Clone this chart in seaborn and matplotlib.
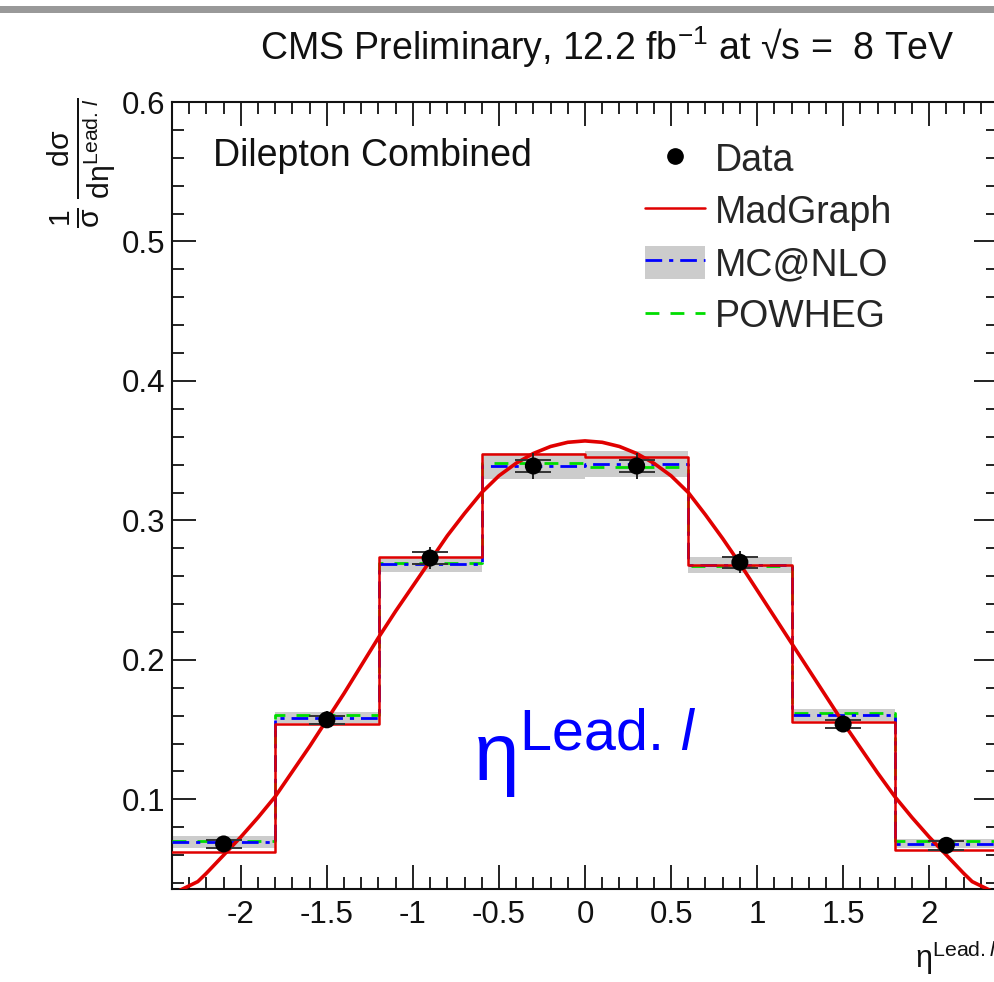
import matplotlib
matplotlib.use("Agg")
import matplotlib.pyplot as plt
import matplotlib.ticker as mticker
from matplotlib.patches import Patch, Rectangle
from matplotlib.lines import Line2D
import seaborn as sns

# ---------------- data ----------------
bin_edges = [-2.4, -1.8, -1.2, -0.6, 0.0, 0.6, 1.2, 1.8, 2.4]
bin_centers = [-2.1, -1.5, -0.9, -0.3, 0.3, 0.9, 1.5, 2.1]
data_vals = [0.068, 0.157, 0.273, 0.339, 0.339, 0.270, 0.154, 0.067]
data_stat = [0.003, 0.003, 0.004, 0.004, 0.004, 0.004, 0.003, 0.003]
data_tot = [0.005, 0.006, 0.008, 0.009, 0.009, 0.008, 0.006, 0.005]
madgraph = [0.062, 0.154, 0.2735, 0.3476, 0.3457, 0.268, 0.1555, 0.0640]
mcatnlo = [0.0693, 0.1585, 0.2685, 0.339, 0.3405, 0.268, 0.1605, 0.0683]
mcatnlo_unc = [0.0045, 0.0040, 0.0055, 0.0095, 0.0095, 0.0060, 0.0045, 0.0035]
powheg = [0.0700, 0.1605, 0.2695, 0.341, 0.338, 0.2670, 0.1620, 0.0702]
curve_x = [-2.40, -2.35, -2.30, -2.25, -2.20, -2.10, -2.00, -1.90, -1.80, -1.70,
           -1.60, -1.50, -1.40, -1.30, -1.20, -1.10, -1.00, -0.90, -0.80, -0.70,
           -0.60, -0.50, -0.40, -0.30, -0.20, -0.10, 0.00, 0.10, 0.20, 0.30,
           0.40, 0.50, 0.60, 0.70, 0.80, 0.90, 1.00, 1.10, 1.20, 1.30,
           1.40, 1.50, 1.60, 1.70, 1.80, 1.90, 2.00, 2.10, 2.20, 2.25,
           2.30, 2.35, 2.40]
curve_y = [0.032, 0.035, 0.038, 0.041, 0.047, 0.060, 0.073, 0.087, 0.102, 0.120,
           0.138, 0.157, 0.176, 0.196, 0.216, 0.235, 0.253, 0.271, 0.289, 0.305,
           0.320, 0.332, 0.341, 0.348, 0.353, 0.356, 0.357, 0.356, 0.353, 0.348,
           0.341, 0.332, 0.320, 0.304, 0.287, 0.269, 0.250, 0.231, 0.212, 0.193,
           0.174, 0.155, 0.137, 0.119, 0.102, 0.087, 0.073, 0.060, 0.047, 0.041,
           0.038, 0.035, 0.032]
x_ticks = [-2, -1.5, -1, -0.5, 0, 0.5, 1, 1.5, 2]
x_tick_labels = ["-2", "-1.5", "-1", "-0.5", "0", "0.5", "1", "1.5", "2"]
y_ticks = [0.1, 0.2, 0.3, 0.4, 0.5, 0.6]
y_tick_labels = ["0.1", "0.2", "0.3", "0.4", "0.5", "0.6"]

# ---------------- style ----------------
sns.set_theme(style="white")
plt.rcParams["font.family"] = ["Liberation Sans", "DejaVu Sans"]
plt.rcParams["mathtext.fontset"] = "custom"
plt.rcParams["mathtext.rm"] = "Liberation Sans"
plt.rcParams["mathtext.it"] = "Liberation Sans:italic"
plt.rcParams["mathtext.bf"] = "Liberation Sans:bold"
plt.rcParams["mathtext.default"] = "regular"
plt.rcParams["axes.unicode_minus"] = False

W, H = 994, 982
fig = plt.figure(figsize=(W / 100, H / 100), dpi=100)
fig.patch.set_facecolor("white")

# top grey bar
fig.patches.append(Rectangle((0, 1 - 13 / H), 1, 7 / H, transform=fig.transFigure,
                             facecolor="#999999", edgecolor="none"))

ax_l, ax_r, ax_t, ax_b = 172, 998, 102, 889
ax = fig.add_axes([ax_l / W, 1 - ax_b / H, (ax_r - ax_l) / W, (ax_b - ax_t) / H])
ax.set_facecolor("white")

RED = "#e00000"
BLUE = "#0000ff"
GREEN = "#00dd00"
GREY = "#cccccc"

# MC@NLO uncertainty band
lo = [m - u for m, u in zip(mcatnlo, mcatnlo_unc)]
hi = [m + u for m, u in zip(mcatnlo, mcatnlo_unc)]
ax.fill_between(bin_edges, lo + [lo[-1]], hi + [hi[-1]], step="post",
                color=GREY, lw=0, zorder=1)

# step histograms
sns.lineplot(x=bin_edges, y=powheg + [powheg[-1]], drawstyle="steps-post",
             color=GREEN, lw=2.0, ax=ax, zorder=3, estimator=None)
ax.lines[-1].set_dashes((5, 4))
sns.lineplot(x=bin_edges, y=mcatnlo + [mcatnlo[-1]], drawstyle="steps-post",
             color=BLUE, lw=2.0, ax=ax, zorder=3, estimator=None)
ax.lines[-1].set_dashes((6, 2.5, 1.5, 2.5))
sns.lineplot(x=bin_edges, y=madgraph + [madgraph[-1]], drawstyle="steps-post",
             color=RED, lw=1.8, ax=ax, zorder=4, estimator=None)

# smooth MadGraph curve
sns.lineplot(x=curve_x, y=curve_y, sort=False, color=RED, lw=2.6, ax=ax,
             zorder=5, estimator=None)
ax.lines[-1].set_solid_joinstyle("round")

# data points with error bars
ax.errorbar(bin_centers, data_vals, yerr=data_tot, fmt="none", ecolor="#222222",
            elinewidth=1.4, capsize=0, zorder=6)
ax.errorbar(bin_centers, data_vals, yerr=data_stat, fmt="none", ecolor="#333333",
            elinewidth=1.4, capsize=13, capthick=1.4, zorder=6)
sns.scatterplot(x=bin_centers, y=data_vals, color="black", s=150, edgecolor="none",
                ax=ax, zorder=7)

# axes
ax.set_xlim(-2.4, 2.4)
ax.set_ylim(0.0357, 0.6)
ax.set_xticks(x_ticks)
ax.set_xticklabels(x_tick_labels)
ax.set_yticks(y_ticks)
ax.set_yticklabels(y_tick_labels)
ax.xaxis.set_minor_locator(mticker.MultipleLocator(0.1))
ax.yaxis.set_minor_locator(mticker.MultipleLocator(0.02))
ax.tick_params(which="both", direction="in", top=True, right=True, bottom=True,
               left=True, colors="#111111", width=1.3)
ax.tick_params(which="major", length=17)
ax.tick_params(which="minor", length=8.5)
ax.tick_params(axis="y", which="major", labelsize=22.5, pad=5)
ax.tick_params(axis="x", which="major", labelsize=22.5, pad=8)
for s in ax.spines.values():
    s.set_visible(True)
    s.set_color("#111111")
    s.set_linewidth(1.5)
ax.set_xlabel("")
ax.set_ylabel("")

# legend
handles = [
    Line2D([], [], marker="o", color="black", ls="none", markersize=11),
    Line2D([], [], color=RED, lw=1.8),
    (Patch(facecolor=GREY, edgecolor="none"),
     Line2D([], [], color=BLUE, lw=2.0, dashes=(6, 2.5, 1.5, 2.5))),
    Line2D([], [], color=GREEN, lw=2.0, dashes=(5, 4)),
]
labels = ["Data", "MadGraph", "MC@NLO", "POWHEG"]
ax.legend(handles, labels, loc="upper left",
          bbox_to_anchor=(645 / W, 1 - 141 / H), bbox_transform=fig.transFigure,
          frameon=False, fontsize=27, handlelength=1.6, handleheight=1.0,
          handletextpad=0.27, labelspacing=0.39, borderpad=0, borderaxespad=0)

# texts
fig.text(955 / W, 1 - 47 / H, "CMS Preliminary, 12.2 fb$^{-1}$ at √s =  8 TeV",
         ha="right", va="center", fontsize=27, color="#111111")
fig.text(213 / W, 1 - 156 / H, "Dilepton Combined", ha="left", va="center",
         fontsize=27, color="#111111")
fig.text(473 / W, 1 - 780 / H, r"$\eta^{Lead.\,\mathit{l}}$", ha="left",
         va="baseline", fontsize=59, color=BLUE)
fig.text(82 / W, 1 - 163 / H,
         r"$\frac{1}{\sigma}\,\frac{d\sigma}{d\eta^{Lead.\,\mathit{l}}}$",
         rotation=90, ha="center", va="center", fontsize=31, color="#111111")
fig.text(915 / W, 1 - 968 / H, r"$\eta^{Lead.\mathit{l}}$", ha="left",
         va="baseline", fontsize=22, color="#111111")

fig.savefig("out.png", dpi=100)
